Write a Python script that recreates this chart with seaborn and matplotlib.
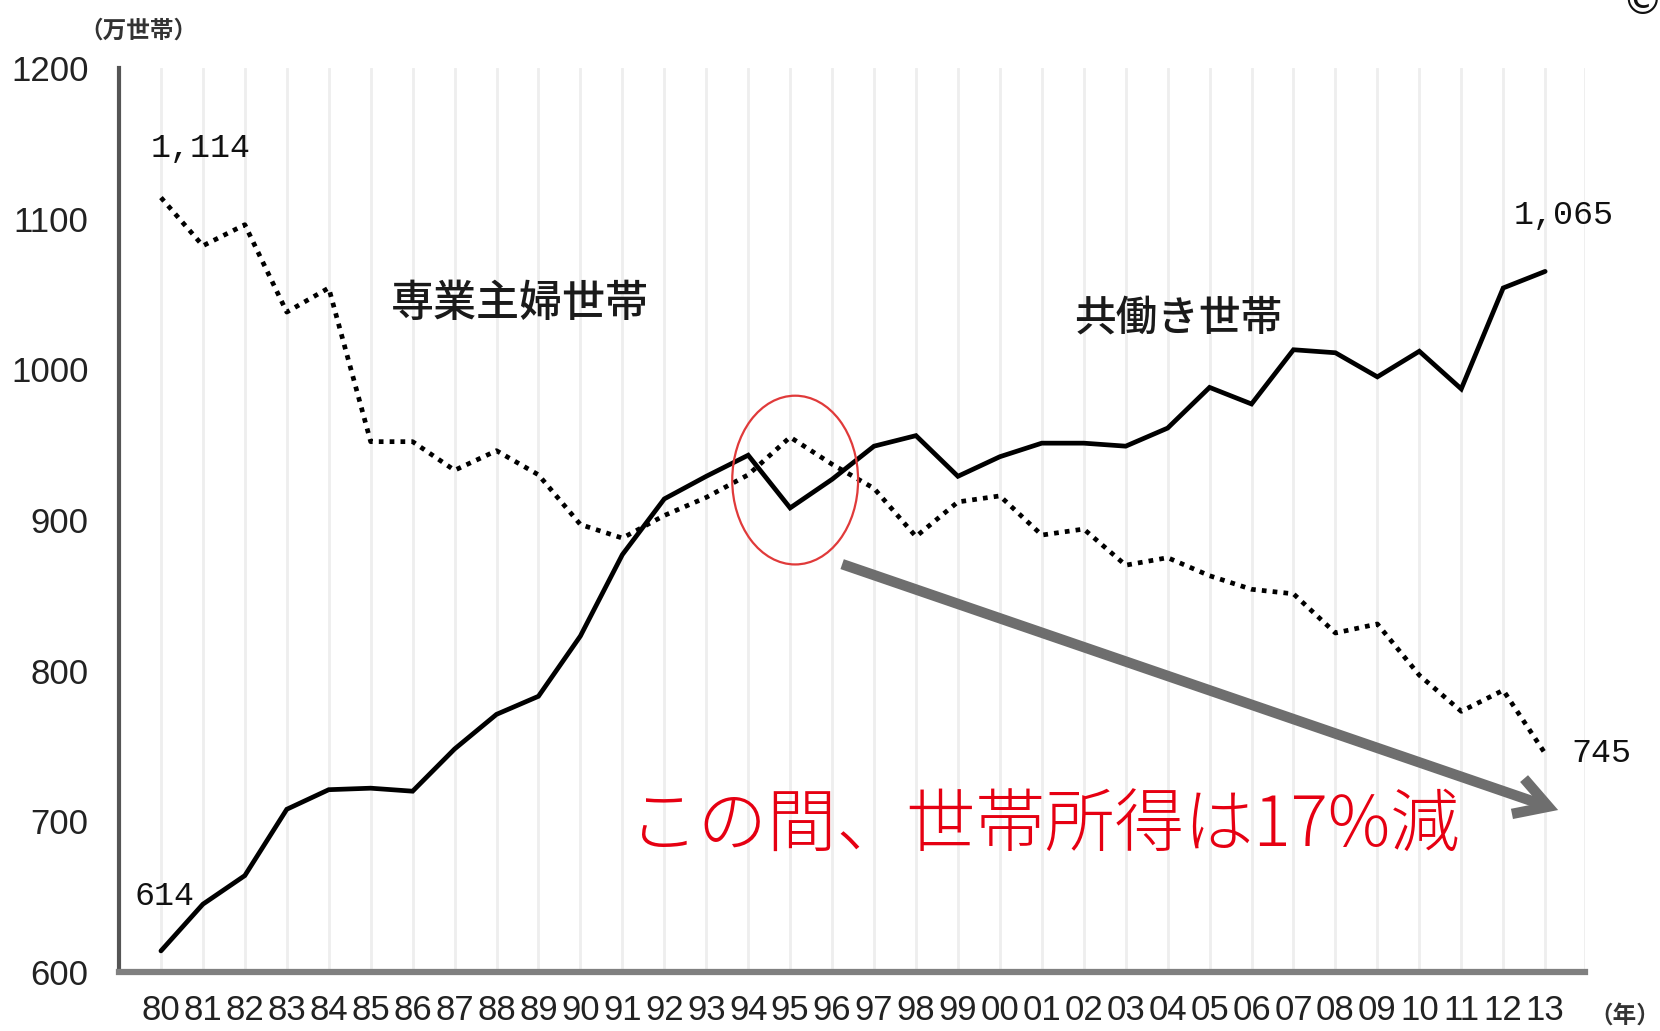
import matplotlib
matplotlib.use("Agg")
import matplotlib.pyplot as plt
import seaborn as sns
import pandas as pd
from matplotlib import font_manager
from matplotlib.patches import Ellipse, FancyArrowPatch

# ---------------- data ----------------
years = [1980, 1981, 1982, 1983, 1984, 1985, 1986, 1987, 1988, 1989,
         1990, 1991, 1992, 1993, 1994, 1995, 1996, 1997, 1998, 1999,
         2000, 2001, 2002, 2003, 2004, 2005, 2006, 2007, 2008, 2009,
         2010, 2011, 2012, 2013]
year_labels = ["80", "81", "82", "83", "84", "85", "86", "87", "88", "89",
               "90", "91", "92", "93", "94", "95", "96", "97", "98", "99",
               "00", "01", "02", "03", "04", "05", "06", "07", "08", "09",
               "10", "11", "12", "13"]
dual_income = [614, 645, 664, 708, 721, 722, 720, 748, 771, 783,
               823, 877, 914, 929, 943, 908, 927, 949, 956, 929,
               942, 951, 951, 949, 961, 988, 977, 1013, 1011, 995,
               1012, 987, 1054, 1065]
housewife = [1114, 1082, 1096, 1038, 1054, 952, 952, 933, 946, 930,
             897, 888, 903, 915, 930, 955, 937, 921, 889, 912,
             916, 890, 894, 870, 875, 863, 854, 851, 825, 831,
             797, 773, 787, 745]
y_ticks = [600, 700, 800, 900, 1000, 1100, 1200]
y_tick_labels = ["600", "700", "800", "900", "1000", "1100", "1200"]
series_names = ["専業主婦世帯", "共働き世帯"]
unit_label = "（万世帯）"
year_unit = "（年）"
note_text = "この間、世帯所得は17%減"

# ---------------- style ----------------
sns.set_theme(style="white")
available = {f.name for f in font_manager.fontManager.ttflist}
if "Liberation Sans Narrow" in available:
    narrow, ysz, xsz = "Liberation Sans Narrow", 28, 28
elif "Liberation Sans" in available:
    narrow, ysz, xsz = "Liberation Sans", 25, 25
else:
    narrow, ysz, xsz = "DejaVu Sans", 21, 20
mono = "Liberation Mono" if "Liberation Mono" in available else "DejaVu Sans Mono"
plt.rcParams["font.family"] = ["Noto Sans CJK JP", "DejaVu Sans"]

W, H = 1660, 1031
fig = plt.figure(figsize=(W / 100, H / 100), dpi=100)
ax = fig.add_axes([119 / W, 59 / H, (1585 - 119) / W, (972 - 68) / H])

df = pd.DataFrame({"year": years, "dual": dual_income, "housewife": housewife})

sns.lineplot(data=df, x="year", y="housewife", ax=ax, color="black",
             linewidth=3.4, linestyle=(0, (1, 1.3)), dash_capstyle="butt")
sns.lineplot(data=df, x="year", y="dual", ax=ax, color="black",
             linewidth=3.4, solid_joinstyle="miter")

ax.set_xlim(1979.0, 2013.95)
ax.set_ylim(600, 1200)
ax.set_xlabel("")
ax.set_ylabel("")

ax.set_xticks(years)
ax.set_xticklabels(year_labels, fontfamily=narrow, fontsize=xsz, color="#222222")
ax.set_yticks(y_ticks)
ax.set_yticklabels(y_tick_labels, fontfamily=narrow, fontsize=ysz, color="#222222")
ax.tick_params(axis="x", direction="in", length=6, width=1.6, color="#222222", pad=16)
ax.tick_params(axis="y", direction="in", length=9, width=2.2, color="#333333", pad=22)

ax.grid(axis="x", color="#eeeeee", linewidth=2)
ax.grid(axis="y", visible=False)
ax.set_axisbelow(True)
ax.axvline(2013.95, color="#eeeeee", linewidth=2, zorder=0)

for s in ["top", "right"]:
    ax.spines[s].set_visible(False)
ax.spines["left"].set_color("#555555")
ax.spines["left"].set_linewidth(3)
ax.spines["bottom"].set_color("#808080")
ax.spines["bottom"].set_linewidth(4.5)

# endpoint value labels
lab_kw = dict(textcoords="offset pixels", ha="center", va="center",
              fontfamily=mono, fontsize=24, color="#111111")
ax.annotate(f"{housewife[0]:,}", xy=(years[0], housewife[0]), xytext=(40, 49), **lab_kw)
ax.annotate(f"{dual_income[0]:,}", xy=(years[0], dual_income[0]), xytext=(4, 54), **lab_kw)
ax.annotate(f"{dual_income[-1]:,}", xy=(years[-1], dual_income[-1]), xytext=(18, 56), **lab_kw)
ax.annotate(f"{housewife[-1]:,}", xy=(years[-1], housewife[-1]), xytext=(56, 0), **lab_kw)

# series labels
ax.text(1988.56, 1044, series_names[0], ha="center", va="center",
        fontsize=31, color="#1a1a1a", fontweight="medium")
ax.text(2004.25, 1034, series_names[1], ha="center", va="center",
        fontsize=30, color="#1a1a1a", fontweight="medium")

# red ellipse
ax.add_patch(Ellipse((1995.12, 926.5), width=3.0, height=112, fill=False,
                     edgecolor="#e03a3a", linewidth=1.6, zorder=5))

# gray arrow
ax.add_patch(FancyArrowPatch((1996.24, 870.7), (2013.31, 707.5),
                             arrowstyle="->,head_length=0.55,head_width=0.32",
                             mutation_scale=42, color="#6e6e6e",
                             linewidth=7.5, zorder=4, shrinkA=0, shrinkB=0,
                             joinstyle="miter", capstyle="butt"))

# red note
ax.text(2001.05, 695.6, note_text, ha="center", va="center",
        fontsize=50, color="#e60012", fontweight="light")

# outside texts
fig.text(138 / W, 1 - 31 / H, unit_label, ha="center", va="center",
         fontsize=17, fontweight="bold", color="#333333")
fig.text(1625 / W, 1 - 1016 / H, year_unit, ha="center", va="center",
         fontsize=17, fontweight="bold", color="#333333")
fig.text(1642 / W, 1 - 2 / H, "©", ha="center", va="center",
         fontsize=30, color="#111111", family=["DejaVu Sans"])

fig.savefig("out.png", dpi=100, facecolor="white")
